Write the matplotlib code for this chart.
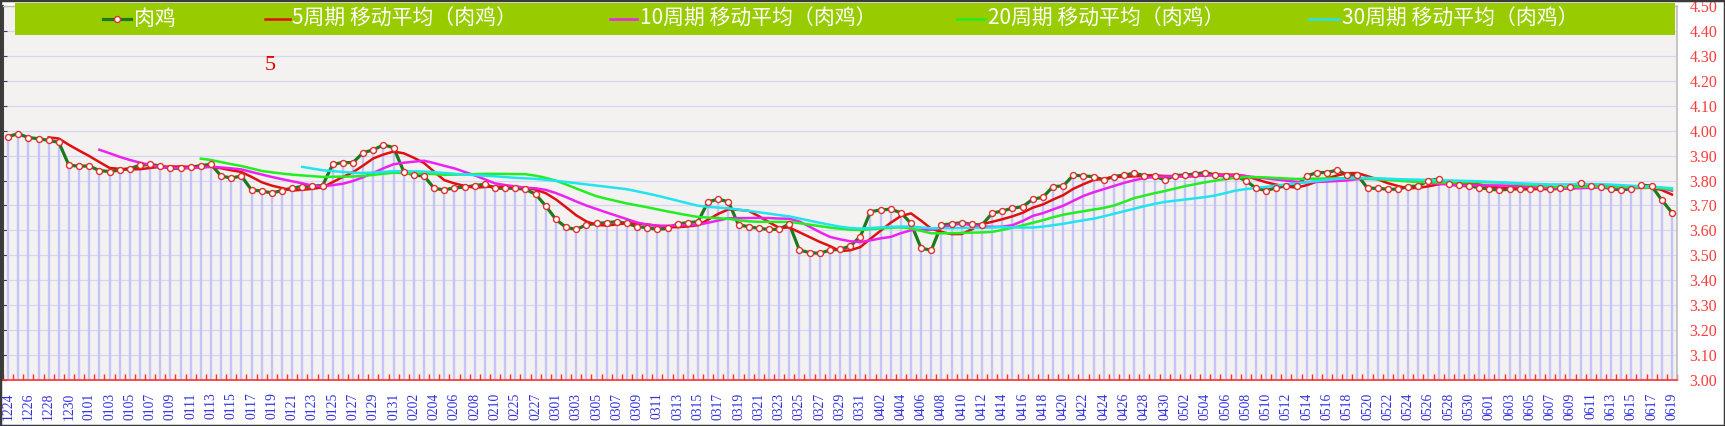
import numpy as np
import pandas as pd
import matplotlib
matplotlib.use('Agg')
import matplotlib.pyplot as plt
from matplotlib.lines import Line2D
from matplotlib.patches import Rectangle

plt.rcParams['font.family'] = ['Noto Sans CJK SC', 'DejaVu Sans']

# ---------------- data ----------------
dates = (list(pd.date_range('2020-12-24', '2021-02-10').strftime('%m%d')) +
         list(pd.date_range('2021-02-24', '2021-06-19').strftime('%m%d')))

values = [
    3.976, 3.988, 3.972, 3.968, 3.961, 3.953, 3.861, 3.858, 3.858, 3.840,
    3.836, 3.842, 3.848, 3.861, 3.865, 3.858, 3.849, 3.849, 3.853, 3.860,
    3.865, 3.818, 3.810, 3.818, 3.762, 3.758, 3.750, 3.760, 3.770, 3.776,
    3.778, 3.780, 3.865, 3.872, 3.872, 3.912, 3.923, 3.943, 3.932, 3.836,
    3.822, 3.818, 3.769, 3.762, 3.771, 3.773, 3.780, 3.785, 3.769, 3.769,
    3.769, 3.765, 3.745, 3.698, 3.644, 3.612, 3.604, 3.622, 3.628, 3.631,
    3.635, 3.628, 3.615, 3.611, 3.604, 3.608, 3.626, 3.631, 3.635, 3.715,
    3.725, 3.715, 3.622, 3.615, 3.608, 3.604, 3.604, 3.626, 3.521, 3.511,
    3.508, 3.521, 3.524, 3.537, 3.575, 3.675, 3.682, 3.685, 3.671, 3.628,
    3.528, 3.521, 3.622, 3.626, 3.631, 3.624, 3.622, 3.669, 3.678, 3.689,
    3.695, 3.725, 3.733, 3.776, 3.778, 3.822, 3.818, 3.816, 3.802, 3.816,
    3.822, 3.829, 3.820, 3.818, 3.802, 3.820, 3.822, 3.826, 3.832, 3.822,
    3.818, 3.818, 3.800, 3.769, 3.760, 3.771, 3.779, 3.779, 3.818, 3.832,
    3.832, 3.842, 3.822, 3.822, 3.769, 3.769, 3.765, 3.765, 3.776, 3.778,
    3.800, 3.806, 3.786, 3.781, 3.778, 3.772, 3.765, 3.762, 3.765, 3.767,
    3.767, 3.770, 3.765, 3.769, 3.773, 3.791, 3.778, 3.776, 3.767, 3.762,
    3.767, 3.781, 3.778, 3.722, 3.671,
]

series_label = '肉鸡'
ma_windows = [5, 10, 20, 30]
ma_labels = ['5周期 移动平均（肉鸡）', '10周期 移动平均（肉鸡）',
             '20周期 移动平均（肉鸡）', '30周期 移动平均（肉鸡）']
ma_colors = ['#e01010', '#ee22ee', '#22ee22', '#22e4ee']
y_ticks = [3.0, 3.1, 3.2, 3.3, 3.4, 3.5, 3.6, 3.7, 3.8, 3.9,
           4.0, 4.1, 4.2, 4.3, 4.4, 4.5]
annotation = '5'

# ---------------- figure ----------------
W, H = 1725, 426
fig = plt.figure(figsize=(W / 100, H / 100), dpi=100)
fig.patch.set_facecolor('white')

def fx(px):
    return px / W

def fy(py):
    return 1 - py / H

ax_l, ax_r, ax_t, ax_b = 3, 1677, 6, 380
ax = fig.add_axes([fx(ax_l), fy(ax_b), fx(ax_r - ax_l), (ax_b - ax_t) / H])
ax.set_facecolor('#f3f2f0')

x = np.arange(len(values))
s = pd.Series(values)

# grid
for yv in y_ticks:
    ax.axhline(yv, color='#d6d6f4', lw=0.9, zorder=1)

# drop lines
ax.vlines(x, 3.0, values, color='#c4c4f6', lw=1.7, zorder=2)

# main series line
ax.plot(x, values, color='#1c7a1c', lw=2.3, zorder=4, solid_joinstyle='round')

# moving averages
for w, c in zip(ma_windows, ma_colors):
    ma = s.rolling(w).mean()
    ax.plot(x, ma, color=c, lw=1.8, zorder=5, solid_joinstyle='round')

# markers
ax.plot(x, values, linestyle='none', marker='o', ms=4.3, mfc='white',
        mec='#e03030', mew=1.0, zorder=6)

ax.set_xlim(-0.5, len(values) - 0.5)
ax.set_ylim(3.0, 4.5)

# x axis
ax.set_xticks(x[::2])
ax.set_xticklabels(dates[::2], rotation=90, color='#3030e0',
                   family=['Liberation Serif', 'DejaVu Serif'], fontsize=9.8)
ax.set_xticks(np.arange(-0.5, len(values), 1.0), minor=True)
ax.tick_params(axis='x', which='major', length=0, pad=9)
ax.tick_params(axis='x', which='minor', length=4, direction='in',
               color='#ff3030', width=1)

# y axis
ax.set_yticks(y_ticks)
ax.set_yticklabels([f'{v:.2f}' for v in y_ticks], color='#ff3a3a',
                   family=['Liberation Serif', 'DejaVu Serif'], fontsize=11.5)
ax.tick_params(axis='y', left=True, right=False, labelleft=False,
               labelright=True, direction='in', length=3,
               color='#404040', pad=9)

for side, col, lw in [('left', '#404040', 1.5), ('right', '#bdbdbd', 1.2),
                      ('top', '#bdbdbd', 1.0), ('bottom', '#ff3030', 1.2)]:
    ax.spines[side].set_color(col)
    ax.spines[side].set_linewidth(lw)

# annotation "5"
fig.text(fx(270), fy(66), annotation, color='#e00000', fontsize=16,
         family=['Liberation Serif', 'DejaVu Serif'], ha='center', va='center')

# legend band
fig.patches.append(Rectangle((fx(15), fy(35)), fx(1675 - 15), (35 - 3) / H,
                             transform=fig.transFigure, facecolor='#99cc00',
                             edgecolor='none', zorder=10))
ly = fy(19)
entries = [(103, 131, 134, series_label, '#1c7a1c', True)]
starts = [(265, 290, 292), (610, 637, 640), (957, 985, 988), (1309, 1339, 1342)]
for (a, b, t), lab, c in zip(starts, ma_labels, ma_colors):
    entries.append((a, b, t, lab, c, False))
for a, b, t, lab, c, mk in entries:
    fig.lines.append(Line2D([fx(a), fx(b)], [ly, ly], transform=fig.transFigure,
                            color=c, lw=2.3 if mk else 1.8, zorder=11))
    if mk:
        fig.lines.append(Line2D([fx((a + b) / 2)], [ly], transform=fig.transFigure,
                                marker='o', ms=4.3, mfc='white', mec='#e03030',
                                mew=1.0, zorder=12))
    fig.text(fx(t), ly, lab, color='white', fontsize=15, ha='left',
             va='center', zorder=12)

# outer border
fig.patches.append(Rectangle((0, 0), 1, 1, transform=fig.transFigure,
                             facecolor='none', edgecolor='#3a3a3a', lw=2.5,
                             zorder=20))

fig.savefig('out.png', dpi=100)
